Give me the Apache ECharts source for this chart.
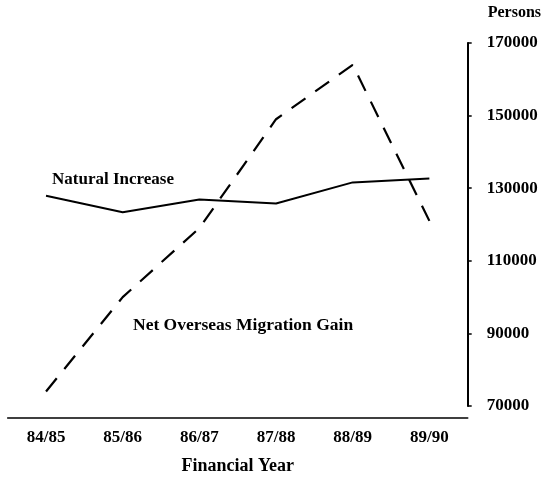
<!DOCTYPE html>
<html>
<head>
<meta charset="utf-8">
<script src="https://cdn.jsdelivr.net/npm/echarts@6/dist/echarts.min.js"></script>
<style>html,body{margin:0;padding:0;background:#fff}#c{width:545px;height:480px}</style>
</head>
<body>
<div id="c"></div>
<script>
const categories = ['84/85', '85/86', '86/87', '87/88', '88/89', '89/90'];
const naturalIncrease = [127900, 123400, 126900, 125800, 131600, 132700];
const netOverseasMigration = [74000, 100000, 119000, 149000, 164000, 121000];
const yTicks = [70000, 90000, 110000, 130000, 150000, 170000];

const FONT = '"Liberation Serif", "Times New Roman", serif';
const chart = echarts.init(document.getElementById('c'), null, {renderer: 'canvas'});
chart.setOption({
  backgroundColor: '#fff',
  animation: false,
  grid: {left: 7.7, right: 77.3, top: 43, bottom: 74, containLabel: false},
  xAxis: {
    type: 'category',
    data: categories,
    boundaryGap: true,
    offset: 12,
    axisLine: {lineStyle: {color: '#000', width: 1.6}},
    axisTick: {alignWithLabel: true, length: 5, lineStyle: {color: '#000', width: 1.5}},
    axisLabel: {color: '#000', fontFamily: FONT, fontSize: 17, fontWeight: 'bold', margin: 11},
    splitLine: {show: false},
    name: 'Financial Year',
    nameLocation: 'middle',
    nameGap: 39,
    nameTextStyle: {color: '#000', fontFamily: FONT, fontSize: 18, fontWeight: 'bold'}
  },
  yAxis: {
    type: 'value',
    position: 'right',
    min: yTicks[0],
    max: yTicks[yTicks.length - 1],
    interval: 20000,
    axisLine: {show: true, lineStyle: {color: '#000', width: 2}},
    axisTick: {show: true, length: 4, lineStyle: {color: '#000', width: 1.5}},
    axisLabel: {color: '#000', fontFamily: FONT, fontSize: 17, fontWeight: 'bold', margin: 19,
      formatter: function (v) { return String(v); }},
    splitLine: {show: false},
    name: 'Persons',
    nameLocation: 'end',
    nameGap: 22,
    nameTextStyle: {color: '#000', fontFamily: FONT, fontSize: 16, fontWeight: 'bold', align: 'left', padding: [0, 0, 0, 20]}
  },
  series: [
    {
      name: 'Natural Increase',
      type: 'line',
      data: naturalIncrease,
      symbol: 'none',
      lineStyle: {color: '#000', width: 2}
    },
    {
      name: 'Net Overseas Migration Gain',
      type: 'line',
      data: netOverseasMigration,
      symbol: 'none',
      lineStyle: {color: '#000', width: 2.2, type: [17, 12]}
    }
  ],
  graphic: [
    {type: 'text', x: 52, y: 180, style: {text: 'Natural Increase', font: 'bold 17px ' + FONT, fill: '#000', textAlign: 'left', textVerticalAlign: 'middle'}},
    {type: 'text', x: 133, y: 325, style: {text: 'Net Overseas Migration Gain', font: 'bold 17.5px ' + FONT, fill: '#000', textAlign: 'left', textVerticalAlign: 'middle'}}
  ]
});
</script>
</body>
</html>
